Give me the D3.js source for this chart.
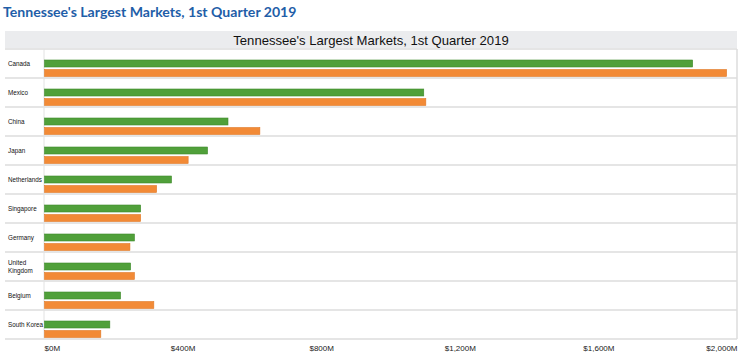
<!DOCTYPE html>
<html>
<head>
<meta charset="utf-8">
<script src="https://cdn.jsdelivr.net/npm/d3@7"></script>
<style>
  body { margin: 0; background: #fff; }
  svg { display: block; }
</style>
</head>
<body>
<svg id="chart" width="740" height="358"></svg>
<script>
const categories = ["Canada", "Mexico", "China", "Japan", "Netherlands", "Singapore", "Germany", "United Kingdom", "Belgium", "South Korea"];
const seriesNames = ["Q1 2019", "Q1 2018"];
const values2019 = [1872, 1096, 531, 472, 368, 279, 261, 250, 221, 190];
const values2018 = [1970, 1102, 623, 416, 325, 279, 248, 261, 317, 164];
const tickValues = [0, 400, 800, 1200, 1600, 2000];
const tickLabels = ["$0M", "$400M", "$800M", "$1,200M", "$1,600M", "$2,000M"];
const seriesColors = ["#50a03a", "#f28a36"];
const seriesStroke = ["#3f8a2c", "#e07a28"];

const svg = d3.select("#chart");
const plot = { left: 44, right: 737, top: 49, bottom: 339, outerLeft: 5 };

// page title
svg.append("text")
  .attr("x", 3).attr("y", 17)
  .attr("font-family", "Lato, 'Open Sans', sans-serif")
  .attr("font-weight", "bold").attr("font-size", 14.1)
  .attr("fill", "#1f5ea8")
  .text("Tennessee's Largest Markets, 1st Quarter 2019");

// header band
svg.append("rect")
  .attr("x", plot.outerLeft).attr("y", 31)
  .attr("width", plot.right - plot.outerLeft).attr("height", 17)
  .attr("fill", "#ebecee");
svg.append("text")
  .attr("x", (plot.outerLeft + plot.right) / 2).attr("y", 44.5)
  .attr("text-anchor", "middle")
  .attr("font-family", "'Liberation Sans', Arial, sans-serif")
  .attr("font-size", 13.1).attr("fill", "#111")
  .text("Tennessee's Largest Markets, 1st Quarter 2019");

const x = d3.scaleLinear().domain([0, 2000]).range([plot.left, plot.right]);
const y = d3.scaleBand().domain(categories).range([plot.top, plot.bottom]).padding(0);
const ySub = d3.scaleBand().domain(seriesNames).range([11, 27.5]).paddingInner(0.263);

// row separators
const seps = [plot.top].concat(categories.map(c => y(c) + y.bandwidth()));
svg.append("g").selectAll("line").data(seps).join("line")
  .attr("x1", plot.outerLeft).attr("x2", plot.right)
  .attr("y1", d => d).attr("y2", d => d)
  .attr("stroke", "#dcdcdc").attr("stroke-width", 1.5);

// vertical lines
svg.append("line")
  .attr("x1", plot.left).attr("x2", plot.left)
  .attr("y1", plot.top).attr("y2", plot.bottom)
  .attr("stroke", "#e2e2e2").attr("stroke-width", 1);
svg.append("line")
  .attr("x1", plot.right).attr("x2", plot.right)
  .attr("y1", plot.top).attr("y2", plot.bottom)
  .attr("stroke", "#dcdcdc").attr("stroke-width", 1.5);

// bars
const rows = categories.map((c, i) => ({ cat: c, vals: [values2019[i], values2018[i]] }));
const rowG = svg.append("g").selectAll("g").data(rows).join("g")
  .attr("transform", d => `translate(0,${y(d.cat)})`);
rowG.selectAll("rect").data(d => d.vals.map((v, j) => ({ v, s: seriesNames[j], j })))
  .join("rect")
  .attr("x", x(0) + 0.5)
  .attr("y", d => ySub(d.s))
  .attr("width", d => x(d.v) - x(0) - 0.5)
  .attr("height", ySub.bandwidth())
  .attr("fill", d => seriesColors[d.j])
  .attr("stroke", d => seriesStroke[d.j]).attr("stroke-width", 0.6);

// category labels
rowG.each(function (d) {
  const parts = d.cat === "United Kingdom" ? ["United", "Kingdom"] : [d.cat];
  const t = d3.select(this).append("text")
    .attr("x", 8)
    .attr("font-family", "'Liberation Sans', Arial, sans-serif")
    .attr("font-size", 6.3).attr("fill", "#111");
  parts.forEach((p, k) => {
    t.append("tspan").attr("x", 8)
      .attr("y", parts.length === 1 ? 16.5 : 12.5 + k * 8.5)
      .text(p);
  });
});

// x axis labels
const axis = d3.axisBottom(x).tickValues(tickValues)
  .tickFormat((d, i) => tickLabels[i]).tickSize(0).tickPadding(0);
const ax = svg.append("g").attr("transform", `translate(0,${plot.bottom})`).call(axis);
ax.select(".domain").remove();
ax.selectAll("text")
  .attr("y", 12)
  .attr("dy", 0)
  .attr("font-family", "'Liberation Sans', Arial, sans-serif")
  .attr("font-size", 8).attr("fill", "#222")
  .attr("text-anchor", (d, i) => i === 0 ? "start" : (i === tickValues.length - 1 ? "end" : "middle"));
</script>
</body>
</html>
